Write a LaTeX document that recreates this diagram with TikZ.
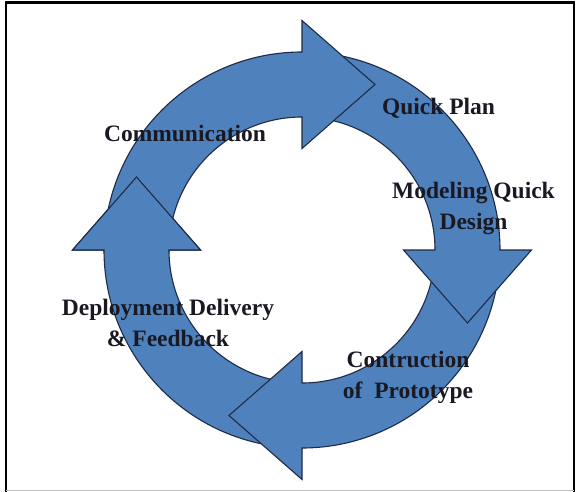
\documentclass[tikz,border=0pt]{standalone}
\usepackage{fontspec}
\setmainfont{Liberation Serif}
\definecolor{ringblue}{RGB}{79,129,189}
\definecolor{ringline}{RGB}{30,42,70}
\definecolor{textdark}{RGB}{25,25,35}
% one ring arrow: shaft along the ring ending at angle #1, then a straight head
\newcommand\RingArrow[1]{%
  \draw[arrowpart] (#1-85:198) arc[start angle=#1-85, end angle=#1, radius=198]
    -- (#1:229.5) -- (#1+23.8:180.9) -- (#1:101.5) -- (#1:133)
    arc[start angle=#1, end angle=#1-85, radius=133] -- cycle;}
\begin{document}
\begin{tikzpicture}[x=1pt,y=-1pt,
  arrowpart/.style={fill=ringblue,draw=ringline,line width=1.1pt,line join=miter},
  phaselabel/.style={font=\bfseries\fontsize{23.5}{31}\selectfont,text=textdark,align=center,inner sep=0pt}]
\useasboundingbox[fill=white] (0,0) rectangle (578,492);
% frame
\draw[black, line width=2.2pt] (6.2,492) -- (6.2,2.5) -- (573.7,2.5) -- (573.7,492);
\draw[black!25, line width=1pt] (6.2,490.5) -- (573.7,490.5);
% ring of four arrows
\begin{scope}[shift={(302,250)}]
  \RingArrow{180}
  \RingArrow{90}
  \RingArrow{0}
  \RingArrow{-90}
\end{scope}
% head of the left arrow lies over the start of the top arrow
\begin{scope}
  \clip (60,165) rectangle (215,251);
  \begin{scope}[shift={(302,250)}]
    \RingArrow{180}
  \end{scope}
\end{scope}
% labels
\node[phaselabel, anchor=base] (comm) at (185,142) {Communication};
\node[phaselabel, anchor=base] (plan) at (438.5,115) {Quick Plan};
\node[phaselabel] (model) at (473.5,208) {Modeling Quick\\Design};
\node[phaselabel] (deploy) at (168,322.5) {Deployment Delivery\\\& Feedback};
\node[phaselabel] (constr) at (408,377) {Contruction\\of\ \ Prototype};
\end{tikzpicture}
\end{document}
